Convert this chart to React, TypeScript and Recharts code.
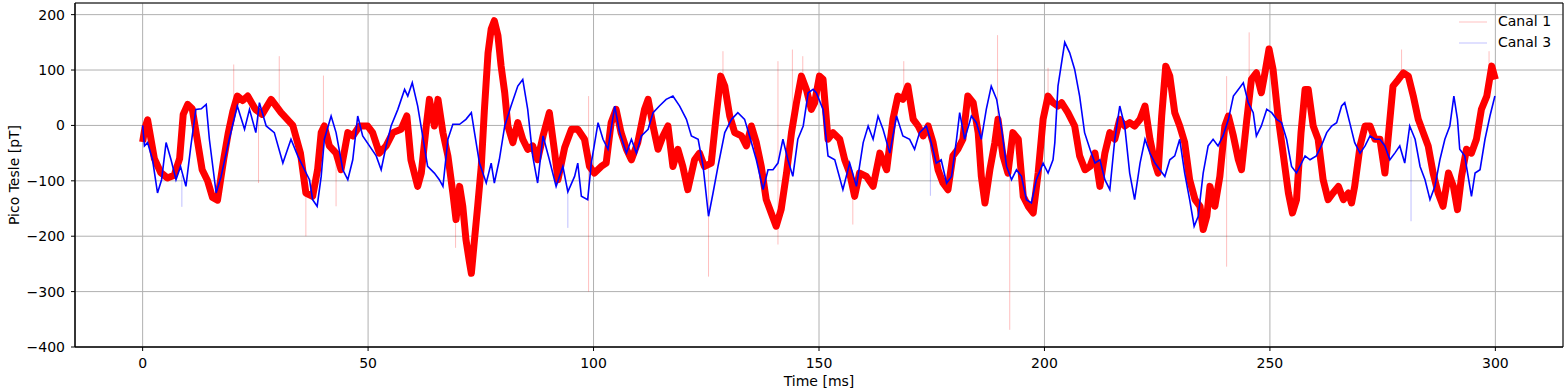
import { LineChart, Line, XAxis, YAxis, CartesianGrid, ReferenceArea } from "recharts";

const xTicks = [0, 50, 100, 150, 200, 250, 300];
const yTicks = [-400, -300, -200, -100, 0, 100, 200];

// [time ms, pT], roughly every 1-1.5 ms
const canal1: [number, number][] = [
  [0, -30], [0.5, -5], [1.1, 10], [2.6, -60], [4, -85], [5.5, -95], [7, -90], [8.2, -60], [9, 20], [10, 38],
  [11, 30], [12, -20], [13.2, -80], [14.4, -100], [15.5, -130], [16.6, -135], [18, -60], [19, -13], [20, 25], [21, 53],
  [22.2, 45], [23.3, 53], [25, 29], [26.5, 20], [28.5, 47], [30.7, 23], [33.3, 0], [35, -50], [36.2, -122], [37.7, -128],
  [38.8, -80], [39.6, -13], [40.3, -1], [41.4, -37], [42.9, -50], [44, -80], [45.5, -13], [46.6, -19], [48.1, -1], [49.9, -1],
  [51, -13], [52.5, -50], [54, -37], [55.5, -13], [57.3, -7], [58.6, 17], [59.5, -62], [61, -110], [61.8, -86], [62.9, -1],
  [63.6, 47], [64.7, -1], [65.5, 47], [66.6, -13], [67.7, -55], [68.8, -122], [69.5, -170], [70.3, -110], [71, -146], [71.7, -206],
  [72.5, -248], [72.9, -267], [73.6, -206], [74.3, -146], [75.1, -74], [75.8, 29], [76.6, 131], [77.3, 174], [78, 189], [78.8, 162],
  [79.5, 107], [80.3, 59], [81, -1], [82.1, -31], [83.2, 5], [84.3, -25], [85.4, -43], [86.5, -37], [87.6, -62], [88.8, -19],
  [90.2, 23], [91.4, -50], [92.1, -98], [93.6, -40], [95.1, -7], [96.5, -7], [98, -25], [99.1, -74], [100.2, -86], [101.7, -74],
  [102.8, -68], [103.9, 5], [105, 29], [106.1, -13], [107.3, -43], [108.4, -62], [109.8, -31], [111.3, 29], [112.1, 47], [113.2, -1],
  [114.3, -43], [115.4, -19], [116.5, -1], [117.6, -74], [118.7, -43], [119.8, -74], [120.9, -116], [122.4, -62], [123.5, -50], [124.6, -74],
  [126.1, -68], [127.2, 17], [128.2, 89], [129.1, 71], [130.2, 17], [131.3, -13], [132.8, -19], [133.9, -37], [135, -1], [136.1, -31],
  [137.2, -74], [138.3, -134], [139.4, -158], [140.5, -182], [141.6, -152], [142.8, -86], [143.9, -13], [145, 41], [146.1, 89], [147.2, 65],
  [148.3, 29], [149, 40], [150.1, 89], [150.9, 83], [152, -25], [153.1, -13], [154.6, -25], [155.7, -62], [156.8, -86], [157.9, -128],
  [159, -86], [160.5, -92], [162, -110], [163.5, -50], [165, -80], [166.4, 11], [167.5, 53], [168.6, 47], [169.7, 71], [170.9, 11],
  [172, -1], [173.1, -19], [174.2, -1], [175.3, -31], [176.4, -80], [177.5, -104], [178.6, -116], [179.7, -55], [180.8, -43], [181.9, -25],
  [183, 53], [184.2, 41], [185.3, -13], [186, -92], [186.8, -140], [187.9, -80], [189, -31], [189.7, 11], [190.8, -55], [191.9, -86],
  [193, -13], [194.2, -25], [195.3, -128], [196.4, -146], [197.5, -158], [198.6, -86], [199.7, 11], [200.8, 53], [201.9, 41], [203, 35],
  [203.8, 41], [205.2, 23], [206.7, -1], [207.8, -55], [209, -80], [210.1, -74], [211.2, -50], [212.3, -110], [213.4, -50], [214.5, -13],
  [215.6, -25], [216.7, 11], [217.8, -1], [218.9, 5], [220, -1], [221.2, 11], [222.3, 35], [223.4, -25], [224.5, -68], [225.2, -86],
  [226, 17], [226.9, 107], [227.8, 89], [228.9, 23], [230, -1], [231.1, -31], [232.2, -98], [233.4, -134], [234.5, -146], [235.2, -188],
  [236, -164], [236.7, -110], [237.8, -146], [238.9, -92], [240, -1], [240.8, 17], [241.9, -19], [243, -62], [243.7, -80], [244.8, 5],
  [245.9, 83], [247, 95], [248.1, 59], [248.9, 95], [249.8, 138], [250.7, 101], [251.8, 17], [253, -55], [254.1, -122], [255, -158],
  [255.9, -134], [256.9, -13], [257.8, 65], [258.5, 65], [259.6, -1], [260.7, -25], [261.8, -98], [262.9, -134], [264, -122], [265.2, -110],
  [266.3, -134], [267.4, -122], [268.1, -140], [268.8, -110], [270, -37], [271.1, -1], [272.2, -1], [273.3, -25], [274.4, -25], [275.5, -86],
  [276.2, -25], [277.3, 71], [278.5, 83], [279.6, 95], [280.7, 89], [281.8, 53], [282.9, 11], [284, -13], [285.1, -37], [286.2, -86],
  [287.3, -122], [288.4, -146], [289.6, -86], [290.7, -110], [291.6, -152], [292.5, -92], [293.6, -43], [294.7, -50], [295.8, -25], [296.9, 29],
  [298.1, 53], [299.2, 107], [300, 83],
];

const canal3: [number, number][] = [
  [0, 0], [0.4, -37], [1.1, -31], [2.2, -62], [3.3, -122], [4.2, -98], [5.2, -31], [6.3, -62], [7.4, -98], [8.4, -74],
  [9.6, -110], [10.7, -37], [11.8, 29], [13, 30], [14.1, 38], [14.8, -25], [16.3, -122], [17.4, -92], [19.2, -25], [21, 35],
  [22.6, -7], [23.7, 29], [25.1, -13], [25.9, 41], [27.4, -1], [29.2, -13], [31.1, -68], [32.9, -25], [34.4, -55], [35.9, -80],
  [37, -98], [37.7, -134], [38.7, -146], [39.6, -92], [40.3, -25], [41.8, 17], [42.9, -13], [44.4, -80], [45.5, -98], [46.6, -62],
  [47.7, 17], [48.8, -19], [50.3, -37], [51.8, -55], [52.9, -80], [54, -37], [55.1, -1], [56.6, 29], [58.1, 65], [58.8, 53],
  [59.8, 77], [61, 35], [62.1, -19], [63.2, -74], [64.7, -86], [65.8, -98], [66.6, -110], [67.7, -25], [68.8, 2], [70.3, 2],
  [71.7, 11], [72.9, 23], [73.6, -13], [74.7, -68], [76.2, -104], [77.3, -68], [78, -104], [79.1, -62], [80.3, -1], [81.7, 35],
  [83.2, 71], [84.3, 83], [85.4, 29], [86.5, -55], [87.6, -104], [88.8, -19], [90.2, -62], [91.7, -110], [93.2, -74], [94.3, -120],
  [95.8, -92], [96.5, -68], [97.3, -128], [98.7, -134], [99.5, -68], [101, 5], [102.1, -25], [103.2, -43], [104.7, 35], [105.8, -13],
  [107.3, -50], [108.4, -25], [109.5, -50], [110.6, -19], [112.1, -7], [113.2, 23], [114.6, 35], [116.1, 47], [117.6, 53], [119.1, 35],
  [120.6, 11], [121.7, -19], [123.2, -25], [124.3, -74], [125.5, -164], [126.5, -122], [127.6, -74], [129.1, -13], [130.6, 11], [132, 23],
  [133.5, 11], [134.6, -19], [136.1, -62], [137.6, -116], [138.7, -80], [139.8, -80], [140.9, -68], [142, -25], [143.1, -62], [144.2, -92],
  [145.3, -25], [146.5, -1], [147.6, 59], [148.7, 65], [149.4, 59], [150.9, 29], [152, -55], [153.5, -62], [155.3, -116], [156.8, -68],
  [158.3, -110], [159.8, -31], [160.9, -1], [162, -25], [163.1, 17], [164.2, -7], [165.7, -50], [167.2, 17], [168.6, -19], [170.1, -25],
  [171.2, -43], [172.3, -13], [173.8, -1], [174.9, -31], [176, -68], [177.1, -62], [178.3, -104], [179.4, -92], [180.5, -25], [181.2, 23],
  [182.3, -25], [183.8, 17], [184.9, 5], [186, -25], [187.1, 29], [188.2, 71], [189.4, 47], [190.5, -7], [191.6, -74], [192.7, -98],
  [193.8, -80], [194.9, -92], [196, -134], [197.1, -140], [198.2, -98], [199.7, -68], [200.8, -86], [201.9, -62], [202.3, -31], [203, 71],
  [204.5, 150], [205.6, 131], [206.7, 101], [207.8, 53], [208.9, -13], [210.1, -43], [211.2, -68], [212.3, -62], [213.4, -98], [214.5, -116],
  [215.6, -25], [216.7, 35], [217.8, -1], [218.9, -86], [220, -134], [221.2, -68], [222.3, -25], [223.4, -50], [224.5, -68], [225.6, -80],
  [226.7, -92], [227.8, -62], [228.9, -55], [230, -25], [231.1, -86], [232.2, -134], [233.2, -182], [234.1, -164], [235.2, -86], [236.3, -37],
  [237.4, -25], [238.5, -37], [239.6, -19], [240.8, 11], [241.9, 53], [243, 65], [244.1, 77], [245.2, 41], [246.3, 23], [247, -19],
  [248.1, -1], [249.3, 29], [250.4, 23], [251.5, 11], [252.6, 5], [253.7, -25], [254.8, -74], [255.9, -86], [257, -68], [257.8, -55],
  [258.9, -62], [260.3, -55], [261.4, -37], [262.6, -13], [263.7, -1], [264.8, 5], [265.9, 35], [266.6, 41], [267.7, 5], [268.8, -31],
  [270, -50], [271.1, -37], [272.2, -19], [273.3, -25], [274.4, -25], [275.5, -37], [276.6, -62], [277.7, -50], [278.8, -37], [279.9, -68],
  [281, -1], [282.2, -25], [283.3, -74], [284.4, -98], [285.5, -134], [286.6, -110], [287.7, -62], [288.8, -25], [289.9, -1], [290.8, 53],
  [291.6, 11], [292.1, -43], [293.2, -55], [294.7, -128], [295.5, -86], [296.6, -80], [297.7, -25], [298.8, 17], [299.9, 53],
];

// single-sample outliers: [time, low, high]
const canal1Spikes: [number, number, number][] = [
  [20.2, 0, 110], [25.7, -104, 30], [30.3, 20, 125], [36.2, -200, -100], [40.1, -20, 90], [42.9, -146, -40],
  [69.4, -221, -150], [98.9, -300, 53], [125.5, -273, -55], [128.7, 80, 134], [140.9, -215, 116], [144.1, -10, 137],
  [146.4, 80, 125], [157.5, -179, -100], [168.8, 50, 116], [189.6, 10, 163], [192.3, -369, -30], [200.8, 50, 104],
  [240.4, -255, 89], [245.4, 60, 168], [279.2, 90, 137], [298.6, 50, 134],
];
const canal3Spikes: [number, number, number][] = [
  [8.7, -147, -90], [94.3, -185, -110], [174.7, -127, -20], [281.3, -173, -20],
];

const toRows = (pts: [number, number][]) => pts.map(([t, v]) => ({ t, v }));
const spikeRows = (spikes: [number, number, number][]) => {
  const rows: { t: number; v: number | null }[] = [];
  spikes.forEach(([t, lo, hi]) => {
    rows.push({ t, v: lo }, { t, v: hi }, { t, v: null });
  });
  return rows;
};

const font = { fill: "#000", fontSize: 14 };
const minus = (v: number) => String(v).replace("-", "\u2212");

export default function App() {
  return (
    <div style={{ position: "absolute", left: 0, top: 0, width: 1568, height: 392, background: "#fff", fontFamily: "DejaVu Sans" }}>
      <LineChart width={1568} height={392} margin={{ top: 3, right: 5, bottom: 0, left: 0 }}>
        <CartesianGrid stroke="#b0b0b0" strokeWidth={1} />
        <XAxis
          type="number"
          dataKey="t"
          domain={[-15, 315]}
          ticks={xTicks}
          allowDataOverflow
          height={45}
          tickSize={4}
          tickMargin={7}
          stroke="#000"
          tick={font}
          label={{ value: "Time [ms]", position: "insideBottom", offset: 6, ...font }}
        />
        <YAxis
          type="number"
          domain={[-400, 221]}
          ticks={yTicks}
          allowDataOverflow
          width={75}
          tickSize={4}
          tickMargin={6}
          stroke="#000"
          tick={font}
          tickFormatter={minus}
          label={{ value: "Pico Tesle [pT]", angle: -90, position: "insideLeft", offset: 14, ...font, style: { textAnchor: "middle" } }}
        />
        <Line data={spikeRows(canal1Spikes)} dataKey="v" stroke="#ff0000" strokeOpacity={0.25} strokeWidth={1} dot={false} isAnimationActive={false} />
        <Line data={toRows(canal1)} dataKey="v" stroke="#ff0000" strokeWidth={7} strokeLinejoin="round" dot={false} isAnimationActive={false} name="Canal 1" />
        <Line data={spikeRows(canal3Spikes)} dataKey="v" stroke="#0000ff" strokeOpacity={0.25} strokeWidth={1} dot={false} isAnimationActive={false} />
        <Line data={toRows(canal3)} dataKey="v" stroke="#0000ff" strokeWidth={1.6} dot={false} isAnimationActive={false} name="Canal 3" />
        <ReferenceArea x1={-15} x2={315} y1={-400} y2={221} fill="none" stroke="#000" strokeWidth={1} ifOverflow="visible" />
      </LineChart>
      <div style={{ position: "absolute", left: 1459, top: 11, fontSize: 14, lineHeight: "21px", color: "#000" }}>
        {[
          { name: "Canal 1", color: "rgba(255,0,0,0.12)" },
          { name: "Canal 3", color: "rgba(0,0,255,0.12)" },
        ].map((s) => (
          <div key={s.name} style={{ display: "flex", alignItems: "center", height: 21 }}>
            <span style={{ display: "inline-block", width: 28, height: 2, background: s.color, marginRight: 11 }} />
            <span>{s.name}</span>
          </div>
        ))}
      </div>
    </div>
  );
}
